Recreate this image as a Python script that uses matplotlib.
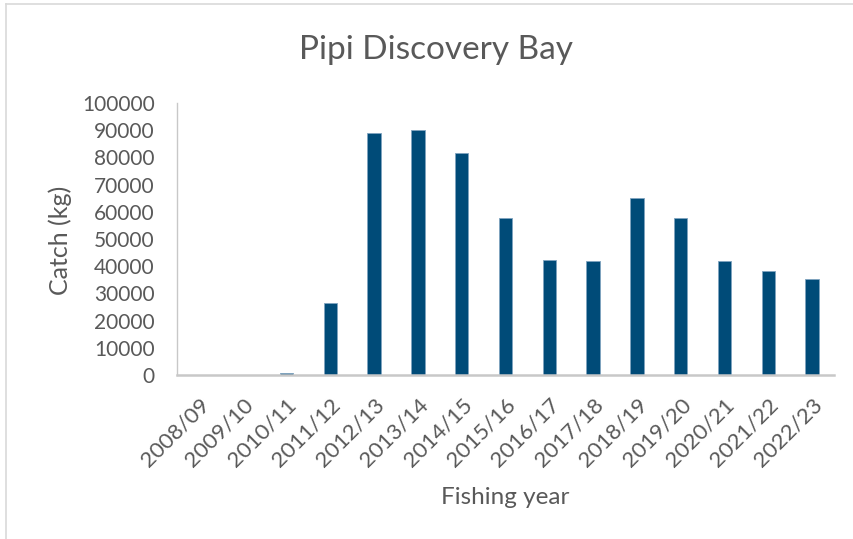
import numpy as np
import matplotlib.pyplot as plt
from matplotlib.lines import Line2D
from matplotlib import rcParams
rcParams.update({"font.family": ["Lato", "DejaVu Sans"]})

years = ["2008/09", "2009/10", "2010/11", "2011/12", "2012/13", "2013/14",
         "2014/15", "2015/16", "2016/17", "2017/18", "2018/19", "2019/20",
         "2020/21", "2021/22", "2022/23"]
catch_kg = [0, 0, 700, 26500, 89000, 90200, 81600, 57600, 42300, 41900,
            65200, 57700, 41900, 38200, 35300]

text_col = "#595959"
bar_col = "#004B78"

fig = plt.figure(figsize=(8.54, 5.39), dpi=100)
ax = fig.add_axes([177/854, 1 - 375/539, (834 - 177)/854, (375 - 103)/539])

x = np.arange(len(years))
ax.bar(x, catch_kg, width=0.31, color=bar_col, edgecolor="#7FA3BF", linewidth=0.6)

ax.set_xlim(-0.5, len(years) - 0.5)
ax.set_ylim(0, 100000)
ax.set_yticks(np.arange(0, 100001, 10000))
ax.set_xticks(x)
ax.set_xticklabels(years, rotation=45, ha="right", rotation_mode="anchor")
ax.tick_params(axis="both", length=0, labelcolor=text_col)
ax.tick_params(axis="y", pad=16, labelsize=15)
ax.tick_params(axis="x", pad=14, labelsize=16)

for side in ["top", "right"]:
    ax.spines[side].set_visible(False)
ax.spines["left"].set_color("#C8C8C8")
ax.spines["left"].set_linewidth(1.0)
ax.spines["bottom"].set_color("#C8C8C8")
ax.spines["bottom"].set_linewidth(1.8)

fig.text(60/854, 1 - 240/539, "Catch (kg)", fontsize=18, color=text_col,
         rotation=90, ha="center", va="center")
fig.text(505/854, 1 - 497/539, "Fishing year", fontsize=17.5, color=text_col,
         ha="center", va="center")
fig.text(436/854, 1 - 50/539, "Pipi Discovery Bay", fontsize=24, color=text_col,
         ha="center", va="center")

# chart area border (cut off on the right and bottom)
fig.add_artist(Line2D([6/854, 6/854], [0, 1 - 4/539], color="#D9D9D9", lw=1.2))
fig.add_artist(Line2D([6/854, 1], [1 - 4/539, 1 - 4/539], color="#D9D9D9", lw=1.2))

fig.savefig("out.png", dpi=100)
